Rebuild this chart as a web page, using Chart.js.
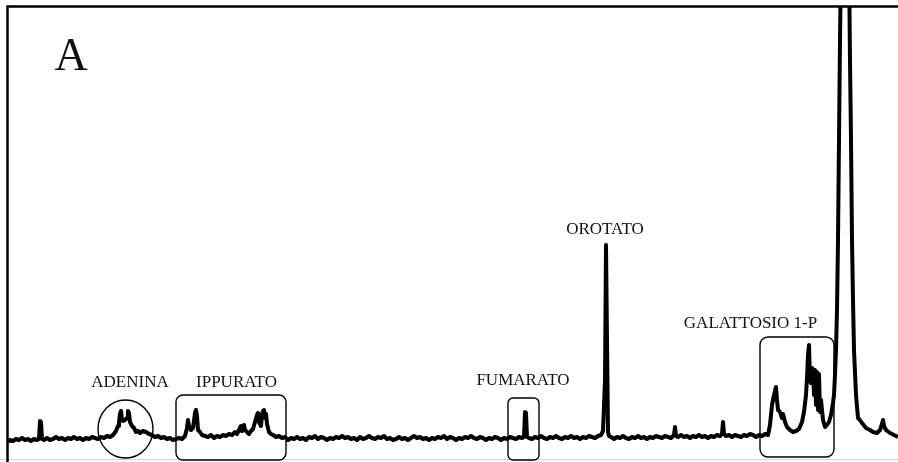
<!DOCTYPE html>
<html>
<head>
<meta charset="utf-8">
<script src="https://cdn.jsdelivr.net/npm/chart.js@4"></script>
<style>
  html, body { margin: 0; padding: 0; background: #fff; }
  canvas { display: block; }
</style>
</head>
<body>
<canvas id="spectrum" width="898" height="462"></canvas>
<script>
// Spectrum trace: position along the shift axis and signal intensity (baseline ~0)
const position = [
  7.5, 10, 13, 16, 19, 22, 25, 28, 31, 34, 37, 39, 40, 41, 42, 44, 47, 50, 53, 56,
  59, 62, 65, 68, 71, 74, 77, 80, 83, 86, 89, 92, 95, 98, 101, 104, 107, 110, 113, 116,
  118, 119, 120, 121, 122, 123, 125, 127, 128, 129, 130, 132, 134, 136, 138, 140, 143, 146, 149, 152,
  155, 158, 161, 164, 167, 170, 173, 176, 179, 182, 185, 187, 188, 189, 191, 193, 195, 196, 197, 198,
  200, 202, 205, 208, 211, 214, 217, 220, 223, 226, 229, 232, 235, 237, 239, 241, 242, 244, 245, 247,
  249, 251, 253, 255, 257, 258, 259, 261, 262, 263, 264, 265, 266, 267, 269, 271, 273, 276, 279, 282,
  285, 288, 291, 294, 297, 300, 303, 306, 309, 312, 315, 318, 321, 324, 327, 330, 333, 336, 339, 342,
  345, 348, 351, 354, 357, 360, 363, 366, 369, 372, 375, 378, 381, 384, 387, 390, 393, 396, 399, 402,
  405, 408, 411, 414, 417, 420, 423, 426, 429, 432, 435, 438, 441, 444, 447, 450, 453, 456, 459, 462,
  465, 468, 471, 474, 477, 480, 483, 486, 489, 492, 495, 498, 501, 504, 507, 510, 513, 516, 519, 522,
  524, 525, 526, 527, 529, 532, 535, 538, 541, 544, 547, 550, 553, 556, 559, 562, 565, 568, 571, 574,
  577, 580, 583, 586, 589, 592, 595, 598, 601, 603, 605, 606, 607, 608, 609, 611, 614, 617, 620, 623,
  626, 629, 632, 635, 638, 641, 644, 647, 650, 653, 656, 659, 662, 665, 668, 671, 674, 675, 676, 678,
  681, 684, 687, 690, 693, 696, 699, 702, 705, 708, 711, 714, 717, 720, 722, 723, 724, 726, 729, 732,
  735, 738, 741, 744, 747, 750, 753, 756, 759, 762, 765, 768, 770, 772, 774, 776, 777, 778, 780, 782,
  783, 785, 787, 790, 793, 796, 799, 802, 804, 806, 807, 808, 809, 810, 811, 812, 813, 814, 815, 816,
  817, 818, 819, 820, 821, 823, 825, 827, 829, 831, 833, 834, 835, 836, 837, 838, 839, 840, 841, 843,
  845, 847, 849, 850, 851, 852, 853, 854, 856, 858, 860, 862, 866, 870, 873, 877, 880, 882, 883, 884,
  886, 890, 894, 898
];
const intensity = [
  -2, 0, -1, 1, 0, 2, 0, 1, -1, 1, 0, 1, 19, 18, 1, 0, 2, 0, 1, 3,
  1, 2, 0, 2, 1, 3, 1, 2, 0, 2, 1, 3, 2, 1, 3, 2, 4, 3, 5, 9,
  14, 18, 26, 29, 20, 19, 20, 22, 29, 27, 18, 14, 12, 8, 9, 7, 9, 8, 6, 5,
  3, 4, 2, 3, 1, 2, 0, 1, 2, 1, 4, 12, 20, 14, 10, 12, 27, 30, 24, 10,
  8, 5, 4, 3, 5, 2, 4, 3, 5, 4, 6, 5, 8, 6, 10, 14, 9, 15, 10, 8,
  6, 9, 11, 18, 25, 27, 18, 14, 26, 29, 30, 22, 26, 16, 8, 6, 5, 3, 4, 2,
  3, 0, 2, 1, 3, 1, 2, 0, 3, 2, 4, 1, 3, 2, 0, 2, 1, 3, 2, 4,
  2, 3, 1, 2, 0, 3, 1, 2, 4, 2, 1, 3, 2, 4, 1, 2, 0, 1, 3, 1,
  2, 0, 2, 4, 2, 3, 1, 2, 0, 2, 1, 3, 2, 4, 1, 3, 2, 0, 2, 1,
  3, 2, 4, 2, 1, 3, 2, 0, 2, 1, 3, 2, 0, 2, 1, 3, 2, 1, 3, 2,
  3, 28, 27, 3, 2, 1, 3, 2, 4, 2, 1, 3, 2, 4, 2, 1, 3, 2, 4, 2,
  3, 1, 3, 2, 4, 3, 2, 4, 5, 9, 60, 195, 100, 8, 4, 3, 1, 3, 2, 4,
  2, 1, 3, 2, 4, 2, 3, 1, 3, 2, 4, 3, 2, 4, 3, 2, 5, 13, 4, 3,
  5, 3, 4, 2, 4, 3, 5, 3, 4, 2, 4, 3, 5, 4, 6, 18, 6, 4, 5, 3,
  5, 4, 3, 5, 4, 6, 5, 3, 5, 4, 6, 5, 15, 35, 45, 53, 40, 30, 28, 22,
  26, 18, 13, 10, 8, 9, 11, 18, 28, 45, 62, 85, 95, 60, 57, 72, 70, 45, 70, 35,
  68, 30, 66, 28, 40, 20, 13, 15, 18, 25, 37, 45, 65, 90, 130, 200, 300, 400, 480, 900,
  1600, 900, 480, 380, 300, 200, 140, 90, 45, 22, 20, 17, 12, 10, 8, 7, 10, 16, 20, 14,
  10, 7, 5, 3
];

// Compound labels and the outlines that group their signals (shift / intensity units)
const compoundTags = [
  { text: 'ADENINA',        at: 130,   level: 53,  size: 17 },
  { text: 'IPPURATO',       at: 236.5, level: 53,  size: 17 },
  { text: 'FUMARATO',       at: 523,   level: 55,  size: 17 },
  { text: 'OROTATO',        at: 605,   level: 206, size: 17 },
  { text: 'GALATTOSIO 1-P', at: 750.5, level: 112, size: 17 },
  { text: 'A',              at: 71,    level: 370, size: 46 }
];
const outlines = [
  { kind: 'ellipse', cx: 125.5, cy: 11, rx: 27.5, ry: 29 },
  { kind: 'box', x0: 176, x1: 286, top: 45,  bottom: -20, r: 7 },
  { kind: 'box', x0: 508, x1: 539, top: 42,  bottom: -20, r: 5 },
  { kind: 'box', x0: 760, x1: 834, top: 103, bottom: -17, r: 8 }
];

const points = position.map((p, i) => ({ x: p, y: intensity[i] }));

const decorations = {
  id: 'decorations',
  afterDatasetsDraw(chart) {
    const { ctx, chartArea, scales } = chart;
    const xs = scales.x, ys = scales.y;
    const px = v => xs.getPixelForValue(v);
    const py = v => ys.getPixelForValue(v);
    ctx.save();

    // faint lower edge
    ctx.strokeStyle = '#d4d4d4';
    ctx.lineWidth = 1;
    ctx.beginPath();
    ctx.moveTo(0, 459.5);
    ctx.lineTo(chart.width, 459.5);
    ctx.stroke();

    // frame: left and top edges
    ctx.strokeStyle = '#000';
    ctx.lineWidth = 2.5;
    ctx.beginPath();
    ctx.moveTo(chartArea.left, chart.height);
    ctx.lineTo(chartArea.left, chartArea.top);
    ctx.lineTo(chart.width, chartArea.top);
    ctx.stroke();

    // outlines around the compound signals
    ctx.lineWidth = 1.4;
    outlines.forEach(o => {
      ctx.beginPath();
      if (o.kind === 'ellipse') {
        const cx = px(o.cx), cy = py(o.cy);
        const rx = Math.abs(px(o.cx + o.rx) - cx);
        const ry = Math.abs(py(o.cy + o.ry) - cy);
        ctx.ellipse(cx, cy, rx, ry, 0, 0, Math.PI * 2);
      } else {
        const l = px(o.x0), r = px(o.x1), t = py(o.top), b = py(o.bottom);
        ctx.roundRect(l, t, r - l, b - t, o.r);
      }
      ctx.stroke();
    });

    // labels
    ctx.fillStyle = '#111';
    ctx.textAlign = 'center';
    ctx.textBaseline = 'alphabetic';
    compoundTags.forEach(t => {
      ctx.font = t.size + 'px "Liberation Serif", "DejaVu Serif", serif';
      ctx.fillText(t.text, px(t.at), py(t.level));
    });
    ctx.restore();
  }
};

new Chart(document.getElementById('spectrum'), {
  type: 'line',
  data: {
    datasets: [{
      data: points,
      borderColor: '#000',
      borderWidth: 4,
      pointRadius: 0,
      tension: 0,
      fill: false,
      clip: 0,
      borderJoinStyle: 'round'
    }]
  },
  options: {
    responsive: false,
    animation: false,
    devicePixelRatio: 1,
    layout: { padding: { left: 7.5, top: 6.5, right: 0, bottom: 2.5 } },
    scales: {
      x: { type: 'linear', min: 7.5, max: 898, display: false },
      y: { min: -19.5, max: 433.5, display: false }
    },
    plugins: {
      legend: { display: false },
      tooltip: { enabled: false }
    }
  },
  plugins: [decorations]
});
</script>
</body>
</html>
